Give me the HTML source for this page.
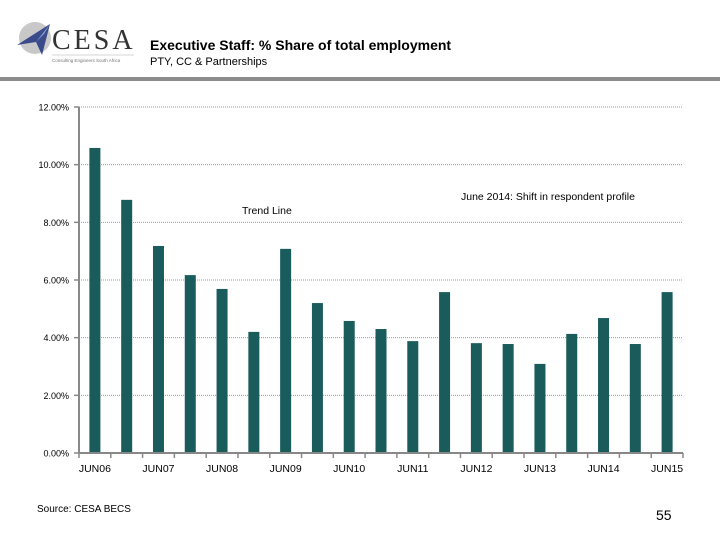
<!DOCTYPE html>
<html><head><meta charset="utf-8"><style>
body{margin:0;background:#fff;}
#wrap{position:relative;width:720px;height:540px;overflow:hidden;font-family:"Liberation Sans",sans-serif;}
</style></head><body>
<div id="wrap">
<svg width="720" height="540" id="svg">
  <g>
    <circle cx="35" cy="38" r="16" fill="#c8c8c8"/>
    <polygon points="17,45 50,24 42,55 36,42" fill="#3a4a8a"/>
    <polygon points="36,42 50,24 44,34" fill="#8aa0d0"/>
    <text x="52" y="49" font-family="Liberation Serif,serif" font-size="28" fill="#333" letter-spacing="3">CESA</text>
    <line x1="52" y1="55" x2="134" y2="55" stroke="#aaa" stroke-width="0.6"/>
    <text x="52" y="62" font-size="4.5" fill="#777">Consulting Engineers South Africa</text>
  </g>
  <text x="150" y="50" font-size="14" font-weight="bold" fill="#000">Executive Staff: % Share of total employment</text>
  <text x="150" y="65" font-size="11" fill="#000">PTY, CC &amp; Partnerships</text>
  <rect x="0" y="77" width="720" height="4" fill="#8c8c8c"/>
  <g id="grid"></g>
  <g id="bars"></g>
  <g id="axes"></g>
  <text x="242" y="214" font-size="10.5" fill="#000">Trend Line</text>
  <text x="461" y="200" font-size="10.5" fill="#000">June 2014: Shift in respondent profile</text>
  <text x="37" y="512" font-size="10" fill="#000">Source: CESA BECS</text>
  <text x="656" y="520" font-size="14" fill="#000">55</text>
</svg>
</div>
<script>
const categories=["JUN06","DEC06","JUN07","DEC07","JUN08","DEC08","JUN09","DEC09","JUN10","DEC10","JUN11","DEC11","JUN12","DEC12","JUN13","DEC13","JUN14","DEC14","JUN15"];
const values=[10.58,8.78,7.18,6.17,5.69,4.20,7.08,5.20,4.58,4.30,3.88,5.58,3.81,3.78,3.09,4.13,4.68,3.78,5.58];
const yTicks=[0,2,4,6,8,10,12];
const NS="http://www.w3.org/2000/svg";
const x0=79,x1=683,y0=453,yTop=107,yMax=12;
const slot=(x1-x0)/categories.length;
const ys=v=>y0-(v/yMax)*(y0-yTop);
const xc=i=>x0+slot*(i+0.5);
function mk(t,a,p){const e=document.createElementNS(NS,t);for(const k in a)e.setAttribute(k,a[k]);p.appendChild(e);return e;}
const grid=document.getElementById('grid'),bars=document.getElementById('bars'),axes=document.getElementById('axes');
yTicks.forEach(t=>{
  const y=ys(t);
  if(t>0){const g=mk('line',{x1:x0,x2:x1,y1:y,y2:y,stroke:'#999','stroke-width':1,'stroke-dasharray':'1,1'},grid);
  
  }
  const tk=mk('line',{x1:x0-5,x2:x0,y1:y,y2:y,stroke:'#888','stroke-width':1.5},axes);
  
  
  const l=mk('text',{x:x0-10,y:y+3.5,'font-size':9,'text-anchor':'end',fill:'#000'},axes);
  l.textContent=t.toFixed(2)+'%';
  
  
});
values.forEach((v,i)=>{
  const r=mk('rect',{x:xc(i)-5.5,y:ys(v),width:11,height:y0-ys(v),fill:'#1a5c5c'},bars);
  
  
});
const ya=mk('line',{x1:x0,x2:x0,y1:yTop,y2:y0,stroke:'#888','stroke-width':2},axes);


const xa=mk('line',{x1:x0,x2:x1,y1:y0,y2:y0,stroke:'#888','stroke-width':2},axes);


for(let i=0;i<=categories.length;i++){
  const t=mk('line',{x1:x0+slot*i,x2:x0+slot*i,y1:y0,y2:y0+5,stroke:'#888','stroke-width':1.5},axes);
  
  
}
categories.forEach((c,i)=>{
  if(i%2)return;
  const l=mk('text',{x:xc(i),y:472,'font-size':10.5,'text-anchor':'middle',fill:'#000'},axes);
  l.textContent=c;
  
  
});
</script>
</body></html>
